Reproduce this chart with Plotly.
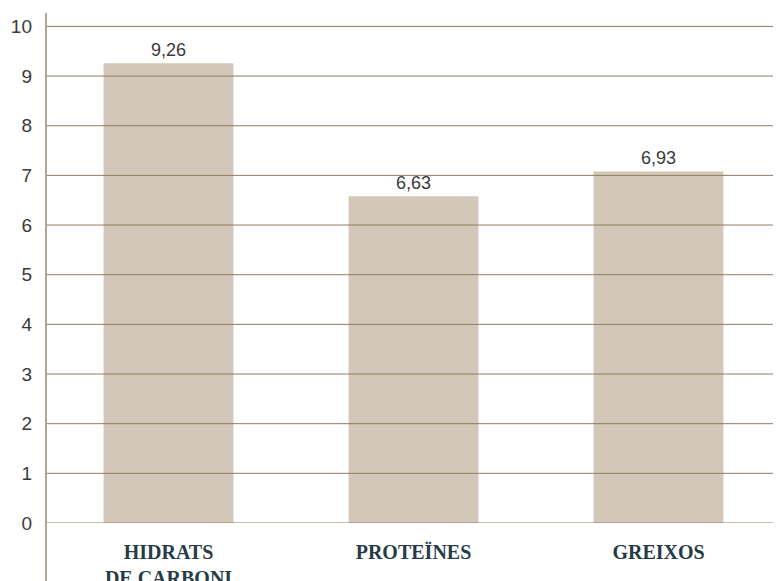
import plotly.graph_objects as go

# data
CATEGORIES = ["HIDRATS<br>DE CARBONI", "PROTEÏNES", "GREIXOS"]
BAR_HEIGHTS = [9.26, 6.58, 7.08]          # heights as drawn
BAR_LABELS = ["9,26", "6,63", "6,93"]     # printed values
Y_TICKS = [0, 1, 2, 3, 4, 5, 6, 7, 8, 9, 10]

BAR_COLOR = "#d3c7b8"
GRID_COLOR = "#8e7c5e"
AXIS_COLOR = "#b3a590"
TEXT_COLOR = "#3a3a3a"
CAT_COLOR = "#263b47"

# page body keeps its default 8px margin, so the figure is 8px smaller
fig = go.Figure()
fig.add_trace(go.Bar(
    x=CATEGORIES, y=BAR_HEIGHTS,
    marker=dict(color=BAR_COLOR, line=dict(width=0)),
    text=BAR_LABELS, textposition="outside", cliponaxis=False,
    textfont=dict(family="Liberation Sans", size=18, color=TEXT_COLOR),
    showlegend=False, hoverinfo="skip",
))

# gridlines drawn above the bars, as in the original
for t in Y_TICKS:
    fig.add_hline(y=t, line=dict(color=GRID_COLOR, width=1), layer="above")

# vertical axis line runs down past zero to the bottom edge
fig.add_shape(type="line", xref="paper", yref="paper", x0=0, x1=0, y0=-0.12, y1=1,
              line=dict(color=AXIS_COLOR, width=2), layer="above")

fig.update_layout(
    width=773, height=573,
    paper_bgcolor="white", plot_bgcolor="white",
    margin=dict(l=38, r=0, t=5, b=58, autoexpand=False),
    bargap=0.47,
    xaxis=dict(showgrid=False, showline=False, zeroline=False, ticks="", automargin=False,
               ticklabelstandoff=15,
               tickfont=dict(family="Liberation Serif", size=20, color=CAT_COLOR, weight=700)),
    yaxis=dict(range=[0, 10.27], tickvals=Y_TICKS, showgrid=False, zeroline=False,
               showline=False, ticks="", ticklabelstandoff=13, automargin=False,
               tickfont=dict(family="Liberation Sans", size=19, color=TEXT_COLOR)),
)

fig.write_html("out.html")
